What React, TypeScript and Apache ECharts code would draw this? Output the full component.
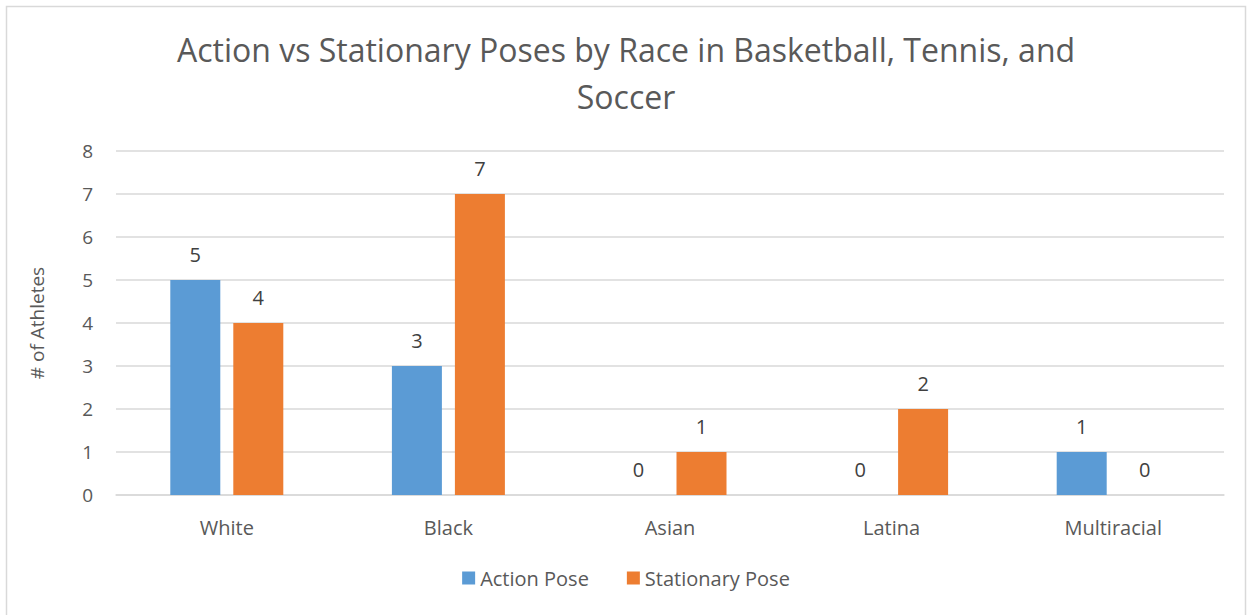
import React, { useEffect, useRef } from "react";
import * as echarts from "echarts";

const categories = ["White", "Black", "Asian", "Latina", "Multiracial"];
const actionPose = [5, 3, 0, 0, 1];
const stationaryPose = [4, 7, 1, 2, 0];
const seriesNames = ["Action Pose", "Stationary Pose"];
const titleText = "Action vs Stationary Poses by Race in Basketball, Tennis, and\nSoccer";
const yAxisName = "# of Athletes";

const FONT = "'Open Sans', 'Noto Sans', sans-serif";

export default function App() {
  const ref = useRef<HTMLDivElement>(null);
  useEffect(() => {
    if (!ref.current) return;
    const chart = echarts.init(ref.current, null, { renderer: "svg" });
    const label = {
      show: true,
      position: "top" as const,
      distance: 16,
      color: "#404040",
      fontSize: 20,
      fontFamily: FONT,
    };
    chart.setOption({
      animation: false,
      backgroundColor: "#ffffff",
      title: {
        text: titleText,
        left: "center",
        top: 21,
        textStyle: {
          color: "#595959",
          fontSize: 32,
          fontWeight: "normal",
          fontFamily: FONT,
          lineHeight: 47,
        },
      },
      legend: {
        data: seriesNames,
        bottom: 22,
        left: "center",
        itemWidth: 13,
        itemHeight: 13,
        itemGap: 38,
        icon: "rect",
        textStyle: { color: "#595959", fontSize: 20, fontFamily: FONT },
      },
      grid: { left: 116, right: 28, top: 151, bottom: 120, containLabel: false },
      xAxis: {
        type: "category",
        data: categories,
        axisLine: { lineStyle: { color: "#d9d9d9", width: 1.5 } },
        axisTick: { show: false },
        axisLabel: { color: "#595959", fontSize: 20, fontFamily: FONT, margin: 22 },
      },
      yAxis: {
        type: "value",
        min: 0,
        max: 8,
        interval: 1,
        name: yAxisName,
        nameLocation: "middle",
        nameGap: 70,
        nameTextStyle: { color: "#595959", fontSize: 19, fontFamily: FONT },
        axisLine: { show: false },
        axisTick: { show: false },
        axisLabel: { color: "#595959", fontSize: 19, fontFamily: FONT, margin: 23 },
        splitLine: { lineStyle: { color: "#d9d9d9", width: 1.5 } },
      },
      series: [
        {
          name: seriesNames[0],
          type: "bar",
          data: actionPose,
          barWidth: 50,
          barGap: "26%",
          itemStyle: { color: "#5b9bd5" },
          label,
        },
        {
          name: seriesNames[1],
          type: "bar",
          data: stationaryPose,
          barWidth: 50,
          barGap: "26%",
          itemStyle: { color: "#ed7d31" },
          label,
        },
      ],
      graphic: [
        {
          type: "rect",
          shape: { x: 6.5, y: 6.5, width: 1239, height: 620 },
          style: { fill: "none", stroke: "#d9d9d9", lineWidth: 1.5 },
          silent: true,
        },
      ],
    });
    return () => chart.dispose();
  }, []);
  return (
    <div
      ref={ref}
      style={{ position: "absolute", left: 0, top: 0, width: 1252, height: 615 }}
    />
  );
}
